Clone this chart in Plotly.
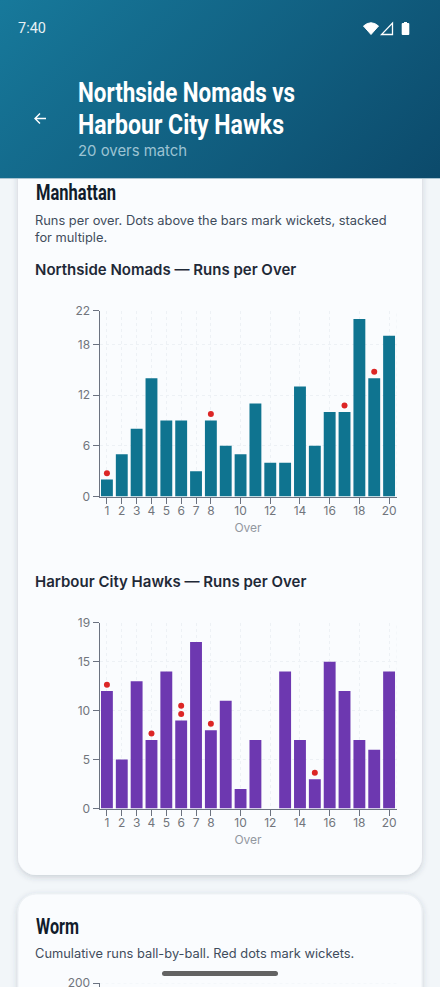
import base64

import plotly.graph_objects as go

W, H = 440, 987

overs = list(range(1, 21))
nomads_runs = [2, 5, 8, 14, 9, 9, 3, 9, 6, 5, 11, 4, 4, 13, 6, 10, 10, 21, 14, 19]
hawks_runs = [12, 5, 13, 7, 14, 9, 17, 8, 11, 2, 7, 0, 14, 7, 3, 15, 12, 7, 6, 14]

# wicket dots sit a little above the bar
nomads_wicket_overs = [1, 8, 17, 19]
nomads_wicket_y = [2.75, 9.75, 10.75, 14.75]
hawks_wicket_overs = [1, 4, 6, 6, 8, 15]
hawks_wicket_y = [12.65, 7.65, 9.65, 10.5, 8.65, 3.65]

x_ticks = [1, 2, 3, 4, 5, 6, 7, 8, 10, 12, 14, 16, 18, 20]
nomads_y_ticks = [0, 6, 12, 18, 22]
hawks_y_ticks = [0, 5, 10, 15, 19]
worm_y_ticks = [200]

TEAL = "#0f7490"
PURPLE = "#6d38b0"
RED = "#dc2626"
GRID = "#edf1f5"
AXIS = "#6b7280"
TICK = "#71757c"
BODY = "Inter"
HEAD = "Roboto"

# the heading face is a condensed one, so squeeze these to the width they have in the picture
HEAD_WIDTHS = {
    "Northside Nomads vs": 217,
    "Harbour City Hawks": 206,
    "Manhattan": 80,
    "Worm": 43,
}


def chrome_svg() -> str:
    """Header gradient, cards, status icons and the home pill."""
    svg = f"""<svg xmlns="http://www.w3.org/2000/svg" width="{W}" height="{H}" viewBox="0 0 {W} {H}">
<defs>
<linearGradient id="hd" gradientUnits="userSpaceOnUse" x1="65.5" y1="-65.5" x2="374.5" y2="243.5">
<stop offset="0" stop-color="#17799b"/><stop offset="1" stop-color="#0c4a6b"/>
</linearGradient>
<filter id="sh" x="-10%" y="-10%" width="120%" height="120%"><feDropShadow dx="0" dy="2" stdDeviation="3" flood-color="#334155" flood-opacity="0.22"/></filter>
</defs>
<rect width="{W}" height="{H}" fill="#f2f6f9"/>
<rect x="18" y="120" width="404" height="755" rx="18" fill="#fafcfe" filter="url(#sh)"/>
<rect x="18" y="894" width="404" height="200" rx="18" fill="#fafcfe" stroke="#edf1f5" filter="url(#sh)"/>
<rect width="{W}" height="178" fill="url(#hd)"/>
<rect y="178" width="{W}" height="1" fill="#a9c3d0"/>
<path d="M363.5 26 Q371 19.5 378.500 26 L371 34.500 Z" fill="#fff" stroke="#fff" stroke-width="1" stroke-linejoin="round"/>
<path d="M392.500 23 V34.500 H381.500 Z" fill="none" stroke="#fff" stroke-width="1.300"/>
<path d="M401.700 24 Q401.700 23 402.700 23 H404 V22 H407 V23 H408.300 Q409.300 23 409.300 24 V34 Q409.300 35 408.300 35 H402.700 Q401.700 35 401.700 34 Z" fill="#fff"/>
<path d="M46 118.500 H35.500 M40 113.500 L35 118.500 L40 123.500" fill="none" stroke="#fff" stroke-width="1.400"/>
<rect x="162" y="971" width="116" height="5" rx="2.500" fill="#636363"/>
</svg>"""
    return "data:image/svg+xml;base64," + base64.b64encode(svg.encode()).decode()


def label(fig, text, x, y, size, color, family=BODY, weight=400):
    # x, y are page pixels, y is the middle of the line
    fig.add_annotation(
        text=text, xref="paper", yref="paper", x=x / W, y=1 - y / H,
        xanchor="left", yanchor="middle", align="left", showarrow=False, borderpad=0, borderwidth=0,
        font=dict(family=family, size=size, color=color, weight=weight),
    )


def y_domain(top, bottom):
    return [1 - bottom / H, 1 - top / H]


def add_chart(fig, n, runs, color, wicket_overs, wicket_y):
    xa, ya = ("x", "y") if n == 1 else (f"x{n}", f"y{n}")
    fig.add_trace(go.Bar(x=overs, y=runs, marker=dict(color=color, line_width=0), width=0.8, xaxis=xa, yaxis=ya))
    fig.add_trace(go.Scatter(x=wicket_overs, y=wicket_y, mode="markers", marker=dict(color=RED, size=6), xaxis=xa, yaxis=ya))
    # right edge of the grid
    fig.add_shape(type="line", xref=xa, yref=f"{ya} domain", x0=20.5, x1=20.5, y0=0, y1=1,
                  line=dict(color=GRID, width=1, dash="3px,3px"), layer="below")


def x_axis(anchor):
    return dict(
        domain=[99.5 / W, 396.5 / W], range=[0.5, 20.5], anchor=anchor,
        tickmode="array", tickvals=x_ticks, ticks="outside", ticklen=6, tickcolor=AXIS, tickwidth=1,
        ticklabelstandoff=-3,
        showline=True, linecolor=AXIS, linewidth=1,
        showgrid=True, gridcolor=GRID, griddash="3px,3px", gridwidth=1, zeroline=False,
        tickfont=dict(family=BODY, size=12, color=TICK),
        title=dict(text="Over", standoff=6.5, font=dict(family=BODY, size=12, color="#92979f")),
    )


def y_axis(anchor, top, bottom, ymax, ticks):
    return dict(
        domain=y_domain(top, bottom), range=[0, ymax], anchor=anchor,
        tickmode="array", tickvals=ticks, ticks="outside", ticklen=6, tickcolor=AXIS, tickwidth=1,
        showline=True, linecolor=AXIS, linewidth=1,
        showgrid=True, gridcolor=GRID, griddash="3px,3px", gridwidth=1, zeroline=False,
        tickfont=dict(family=BODY, size=12, color=TICK),
    )


fig = go.Figure()
add_chart(fig, 1, nomads_runs, TEAL, nomads_wicket_overs, nomads_wicket_y)
add_chart(fig, 2, hawks_runs, PURPLE, hawks_wicket_overs, hawks_wicket_y)

# top of the worm chart peeks in at the bottom of the page
fig.add_trace(go.Scatter(x=[0], y=[0], mode="markers", marker=dict(opacity=0), xaxis="x3", yaxis="y3"))
fig.add_shape(type="line", xref="x3 domain", yref="y3", x0=0, x1=1, y0=200, y1=200,
              line=dict(color=GRID, width=1, dash="3px,3px"), layer="below")

worm_axis = y_axis("x3", 983, 987, 200, worm_y_ticks)
worm_axis.update(range=[196, 200], ticklabeloverflow="allow")

fig.update_layout(
    width=W, height=H, margin=dict(l=0, r=0, t=0, b=0, autoexpand=False),
    paper_bgcolor="#f2f6f9", plot_bgcolor="rgba(0,0,0,0)", showlegend=False,
    xaxis=x_axis("y"),
    yaxis=y_axis("x", 310.5, 496.5, 22, nomads_y_ticks),
    xaxis2=x_axis("y2"),
    yaxis2=y_axis("x2", 622.5, 808.5, 19, hawks_y_ticks),
    xaxis3=dict(domain=[99.5 / W, 396.5 / W], anchor="y3", visible=False, range=[0, 1]),
    yaxis3=worm_axis,
    images=[dict(source=chrome_svg(), xref="paper", yref="paper", x=0, y=1, sizex=1, sizey=1,
                 xanchor="left", yanchor="top", sizing="stretch", layer="below")],
)

label(fig, "7:40", 18, 28.5, 14.5, "#e6f0f4", family="Roboto")
label(fig, "Northside Nomads vs", 77.5, 92.5, 28, "#ffffff", family=HEAD, weight=700)
label(fig, "Harbour City Hawks", 77.5, 124.5, 28, "#ffffff", family=HEAD, weight=700)
label(fig, "20 overs match", 77.5, 151, 14.9, "#9cc3d3")
label(fig, "Manhattan", 35.5, 193, 22, "#111c2b", family=HEAD, weight=700)
label(fig, "Runs per over. Dots above the bars mark wickets, stacked", 35, 220.5, 12.85, "#3f4c5c")
label(fig, "for multiple.", 35, 237.5, 12.85, "#3f4c5c")
label(fig, "Northside Nomads — Runs per Over", 35, 269.5, 15, "#1f2937", weight=600)
label(fig, "Harbour City Hawks — Runs per Over", 35, 581.5, 15, "#1f2937", weight=600)
label(fig, "Worm", 35.5, 926, 22, "#111c2b", family=HEAD, weight=700)
label(fig, "Cumulative runs ball-by-ball. Red dots mark wickets.", 35, 953, 12.85, "#3f4c5c")

squeeze = """
var widths = %s;
function squeeze() {
  document.querySelectorAll('.annotation-text').forEach(function (t) {
    var w = widths[t.textContent];
    if (w) { t.setAttribute('textLength', w); t.setAttribute('lengthAdjust', 'spacingAndGlyphs'); }
  });
}
squeeze();
document.getElementById('{plot_id}').on('plotly_afterplot', squeeze);
document.body.style.margin = '0';
document.body.style.overflow = 'hidden';
""" % str(HEAD_WIDTHS)

fig.write_html("out.html", config={"displayModeBar": False}, post_script=squeeze)
